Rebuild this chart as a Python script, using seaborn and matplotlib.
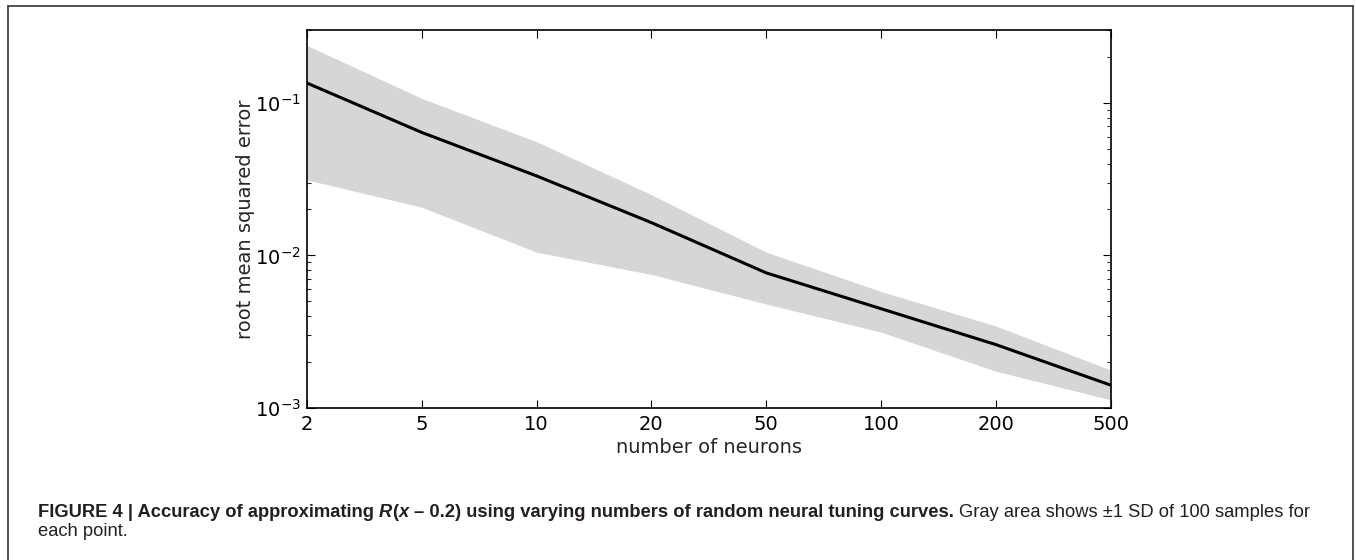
import numpy as np
import pandas as pd
import matplotlib
matplotlib.use("Agg")
import matplotlib.pyplot as plt
import seaborn as sns
from matplotlib.ticker import LogLocator, FixedLocator, NullFormatter
from matplotlib.lines import Line2D

# ---- data ----
neurons = ["2", "5", "10", "20", "50", "100", "200", "500"]
rmse_mean = [0.135, 0.064, 0.0332, 0.0164, 0.00768, 0.00447, 0.0026, 0.00141]
rmse_upper = [0.238, 0.107, 0.0556, 0.025, 0.0105, 0.0058, 0.00344, 0.00177]
rmse_lower = [0.0313, 0.0207, 0.0105, 0.0075, 0.0048, 0.00314, 0.00174, 0.00113]

xlabel = "number of neurons"
ylabel = "root mean squared error"

sns.set_style("ticks")
plt.rcParams["font.family"] = ["DejaVu Sans"]
plt.rcParams["axes.unicode_minus"] = False

W, H = 1356, 560
fig = plt.figure(figsize=(W / 100, H / 100), dpi=100)
ax = fig.add_axes([306.7 / W, 1 - 408 / H, (1111 - 306.7) / W, (408 - 30) / H])

df = pd.DataFrame({"pos": np.arange(len(neurons)), "mean": rmse_mean,
                   "lo": rmse_lower, "hi": rmse_upper})

ax.fill_between(df["pos"], df["lo"], df["hi"], color="#d6d6d6", linewidth=0, zorder=1)
sns.lineplot(data=df, x="pos", y="mean", color="black", linewidth=2.2, ax=ax, zorder=2)

ax.set_yscale("log")
ax.set_ylim(1e-3, 0.3)
ax.set_xlim(0, len(neurons) - 1)
ax.xaxis.set_major_locator(FixedLocator(df["pos"].tolist()))
ax.set_xticklabels(neurons)
ax.yaxis.set_major_locator(LogLocator(base=10, numticks=10))
ax.yaxis.set_minor_locator(LogLocator(base=10, subs=np.arange(2, 10), numticks=20))
ax.yaxis.set_minor_formatter(NullFormatter())

for s in ax.spines.values():
    s.set_visible(True)
    s.set_linewidth(1.2)
    s.set_color("black")

ax.tick_params(which="major", direction="in", length=6, width=0.8, top=True, right=True,
               labelsize=14, pad=5, colors="black")
ax.tick_params(axis="y", which="major", pad=4)
ax.tick_params(which="minor", direction="in", length=3, width=0.8, top=False, right=True,
               left=True)
ax.tick_params(axis="x", which="minor", bottom=False, top=False)

ax.set_xlabel(xlabel, fontsize=14, labelpad=3)
ax.set_ylabel(ylabel, fontsize=14, labelpad=0)
ax.grid(False)

# ---- figure frame ----
def px(x, y):
    return x / W, 1 - y / H

for (x0, y0, x1, y1) in [(8, 5.5, 1353, 5.5), (8, 5.5, 8, 560), (1353, 5.5, 1353, 560)]:
    a, b = px(x0, y0)
    c, d = px(x1, y1)
    fig.add_artist(Line2D([a, c], [b, d], transform=fig.transFigure, color="#333333",
                          linewidth=1.2))

# ---- caption ----
cap_family = ["Liberation Sans", "DejaVu Sans"]
cap_size = 13.25
line1 = [
    ("FIGURE 4 | Accuracy of approximating", "bold", "normal"),
    (" ", "bold", "normal"),
    ("R", "bold", "italic"),
    ("(", "bold", "normal"),
    ("x", "bold", "italic"),
    (" \u2013 0.2) using varying numbers of random neural tuning curves.", "bold", "normal"),
    (" ", "normal", "normal"),
    ("Gray area shows \u00b11 SD of 100 samples for", "normal", "normal"),
]
line2 = [("each point.", "normal", "normal")]

fig.canvas.draw()
renderer = fig.canvas.get_renderer()


def width_of(s, weight, style):
    t = fig.text(0, 0, s, fontsize=cap_size, family=cap_family, weight=weight, style=style)
    w = t.get_window_extent(renderer).width
    t.remove()
    return w


def space_w(weight):
    return width_of("a a", weight, "normal") - width_of("aa", weight, "normal")


def draw_line(pieces, x0, ybase):
    x = x0
    for s, weight, style in pieces:
        if s == " ":
            x += space_w(weight)
            continue
        lead = len(s) - len(s.lstrip(" "))
        x += lead * space_w(weight)
        s2 = s.strip(" ")
        t = fig.text(x / W, 1 - ybase / H, s2, fontsize=cap_size, family=cap_family,
                     weight=weight, style=style, va="baseline", ha="left", color="#231f20")
        x += t.get_window_extent(renderer).width


draw_line(line1, 38, 517)
draw_line(line2, 38, 536)

fig.savefig("out.png", dpi=100)
